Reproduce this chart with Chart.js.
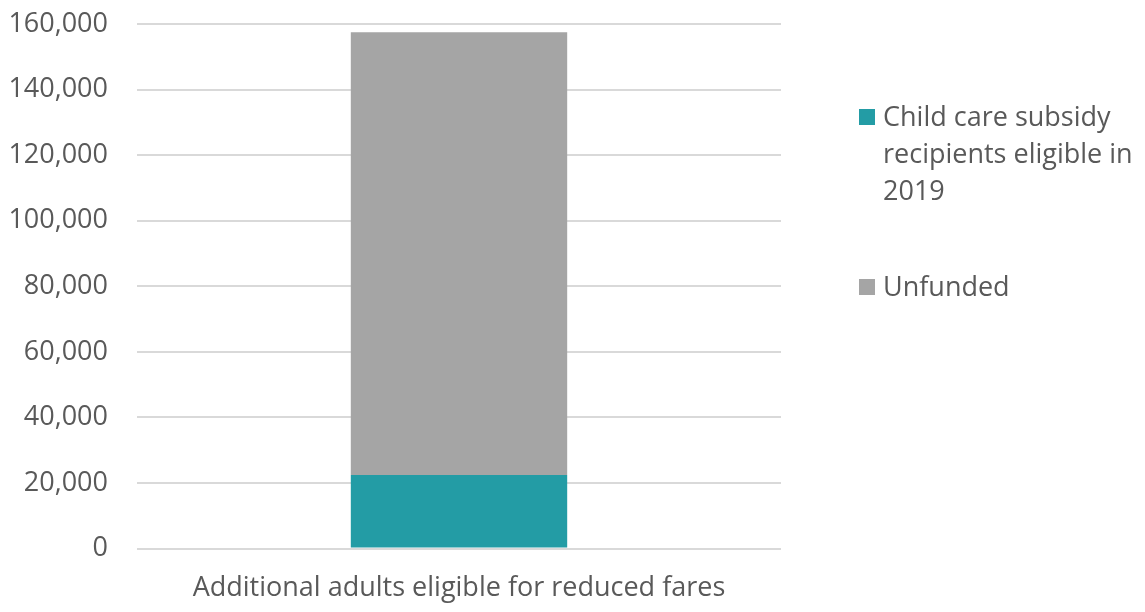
<!DOCTYPE html>
<html>
<head>
<meta charset="utf-8">
<script src="https://cdn.jsdelivr.net/npm/chart.js@4/dist/chart.umd.min.js"></script>
<style>
  html, body { margin: 0; padding: 0; background: #fff; }
  #wrap { position: relative; width: 1145px; height: 612px; }
  #legenda { position: absolute; left: 859px; top: 97px; font-family: "Open Sans", sans-serif;
             font-size: 27px; color: #595959; }
  .item { position: absolute; left: 0; white-space: nowrap; line-height: 37px; }
  .item .box { position: absolute; left: 0; top: 12px; width: 16px; height: 16px; }
  .item .txt { position: absolute; left: 24px; top: 0; }
</style>
</head>
<body>
<div id="wrap">
  <canvas id="grafico" width="1145" height="612"></canvas>
  <div id="legenda"></div>
</div>
<script>
// ------------------------------------------------
// Dados
// ------------------------------------------------
const CATEGORIAS = ['Additional adults eligible for reduced fares'];
const SUBSIDIO   = [22400];
const SEM_FUNDO  = [135100];
const NOMES      = [['Child care subsidy', 'recipients eligible in', '2019'], ['Unfunded']];
const CORES      = ['#239ca5', '#a5a5a5'];
const Y_TICKS    = [0, 20000, 40000, 60000, 80000, 100000, 120000, 140000, 160000];

const FONTE = { family: '"Open Sans", sans-serif', size: 27 };
const COR_TEXTO = '#595959';

new Chart(document.getElementById('grafico').getContext('2d'), {
    type: 'bar',
    data: {
        labels: CATEGORIAS,
        datasets: [
            { label: NOMES[0].join(' '), data: SUBSIDIO,  backgroundColor: CORES[0], categoryPercentage: 1, barPercentage: 0.336 },
            { label: NOMES[1].join(' '), data: SEM_FUNDO, backgroundColor: CORES[1], categoryPercentage: 1, barPercentage: 0.336 }
        ]
    },
    options: {
        responsive: false,
        animation: false,
        layout: { padding: { top: 24, right: 364, left: 0, bottom: 0 } },
        plugins: { legend: { display: false }, tooltip: { enabled: false } },
        scales: {
            x: {
                stacked: true,
                grid: { display: false, drawTicks: false },
                border: { display: false },
                ticks: { color: COR_TEXTO, font: FONTE, padding: 24 },
                afterFit: s => { s.height = 63.5; s.paddingLeft = 0; s.paddingRight = 0; }
            },
            y: {
                stacked: true,
                min: 0, max: 160000,
                afterBuildTicks: s => { s.ticks = Y_TICKS.map(v => ({ value: v })); },
                grid: { color: '#d9d9d9', lineWidth: 2, drawTicks: false },
                border: { display: false },
                ticks: {
                    color: COR_TEXTO, font: FONTE, padding: 29,
                    callback: v => v.toLocaleString('en-US')
                },
                afterFit: s => { s.width = 137; s.paddingTop = 0; s.paddingBottom = 0; }
            }
        }
    }
});

// legenda em HTML (texto quebrado como no original)
const tops = [0, 170];
document.getElementById('legenda').innerHTML = NOMES.map((linhas, i) =>
    `<div class="item" style="top:${tops[i]}px"><span class="box" style="background:${CORES[i]}"></span>` +
    `<span class="txt">${linhas.join('<br>')}</span></div>`
).join('');
</script>
</body>
</html>
